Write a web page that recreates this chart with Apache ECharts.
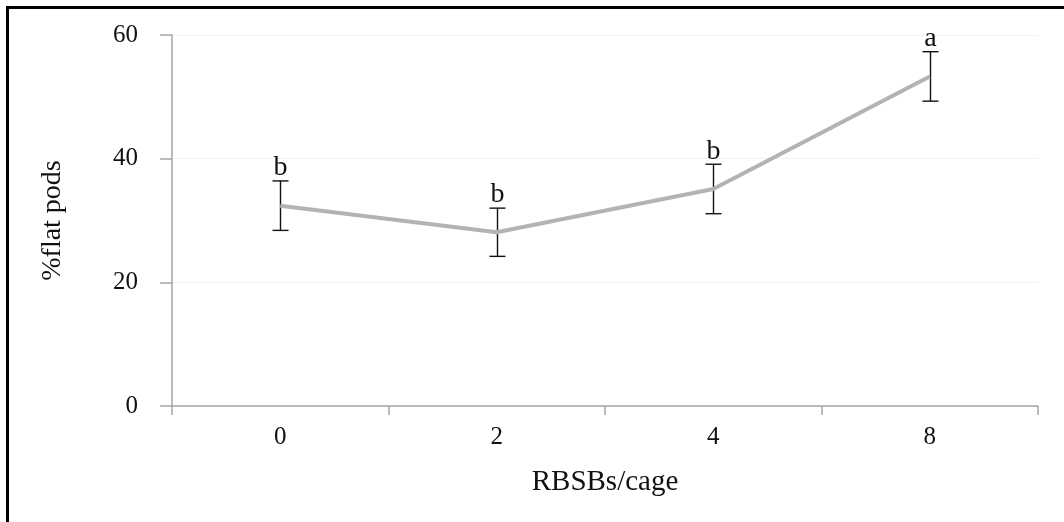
<!DOCTYPE html>
<html>
<head>
<meta charset="utf-8">
<script src="https://cdn.jsdelivr.net/npm/echarts@6/dist/echarts.min.js"></script>
<style>
  html, body { margin: 0; padding: 0; background: #fff; }
  #chart { width: 1064px; height: 522px; }
</style>
</head>
<body>
<div id="chart"></div>
<script>
const categories = ['0', '2', '4', '8'];
const means = [32.4, 28.1, 35.1, 53.3];
const errors = [4.0, 3.9, 4.0, 4.0];
const letters = ['b', 'b', 'b', 'a'];
const yMin = 0, yMax = 60, yStep = 20;

const FONT = 'Liberation Serif';
const chart = echarts.init(document.getElementById('chart'));

const errData = categories.map((c, i) => [i, means[i] - errors[i], means[i] + errors[i]]);

chart.setOption({
  animation: false,
  backgroundColor: '#fff',
  grid: { left: 172, right: 26, top: 35, bottom: 116 },
  graphic: [{
    type: 'rect',
    shape: { x: 7.5, y: 7.5, width: 1080, height: 540 },
    style: { fill: 'none', stroke: '#000', lineWidth: 3 },
    silent: true
  }],
  xAxis: {
    type: 'category',
    data: categories,
    boundaryGap: true,
    name: 'RBSBs/cage',
    nameLocation: 'middle',
    nameGap: 62,
    nameTextStyle: { fontFamily: FONT, fontSize: 29, color: '#111' },
    axisLine: { lineStyle: { color: '#a6a6a6', width: 1.5 } },
    axisTick: { show: true, length: 9, lineStyle: { color: '#a6a6a6', width: 1.5 } },
    axisLabel: { fontFamily: FONT, fontSize: 25, color: '#111', margin: 19 },
    splitLine: { show: false }
  },
  yAxis: {
    type: 'value',
    min: yMin, max: yMax, interval: yStep,
    name: '%flat pods',
    nameLocation: 'middle',
    nameGap: 105,
    nameTextStyle: { fontFamily: FONT, fontSize: 28, color: '#111' },
    axisLine: { show: true, lineStyle: { color: '#a6a6a6', width: 1.5 } },
    axisTick: { show: true, length: 12, lineStyle: { color: '#a6a6a6', width: 1.5 } },
    axisLabel: { fontFamily: FONT, fontSize: 25, color: '#111', margin: 34 },
    splitLine: { show: true, lineStyle: { color: '#f2f2f2', width: 1 } }
  },
  series: [
    {
      type: 'custom',
      z: 2,
      data: errData,
      renderItem: function (params, api) {
        const i = api.value(0);
        const lo = api.coord([i, api.value(1)]);
        const hi = api.coord([i, api.value(2)]);
        const x = Math.round(lo[0]) + 0.5;
        const hw = 8;
        const st = { stroke: '#111', lineWidth: 1.4 };
        return {
          type: 'group',
          children: [
            { type: 'line', shape: { x1: x, y1: lo[1], x2: x, y2: hi[1] }, style: st },
            { type: 'line', shape: { x1: x - hw, y1: lo[1], x2: x + hw, y2: lo[1] }, style: st },
            { type: 'line', shape: { x1: x - hw, y1: hi[1], x2: x + hw, y2: hi[1] }, style: st },
            { type: 'text', x: x, y: hi[1] + 1,
              style: { text: letters[params.dataIndex], fontFamily: FONT, fontSize: 28,
                       fill: '#111', align: 'center', verticalAlign: 'bottom' } }
          ]
        };
      }
    },
    {
      type: 'line',
      z: 3,
      data: means,
      showSymbol: false,
      symbol: 'none',
      lineStyle: { color: '#b3b3b3', width: 4 }
    }
  ]
});
</script>
</body>
</html>
